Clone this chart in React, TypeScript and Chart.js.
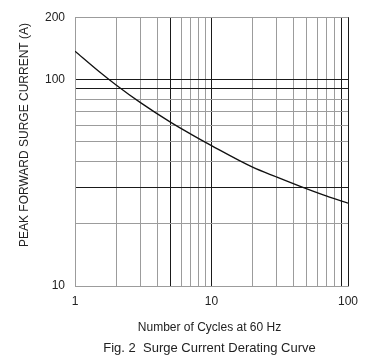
import React, { useEffect, useRef } from "react";
import { Chart, registerables } from "chart.js";

Chart.register(...registerables);

// Surge current derating curve
const cycles = [1, 1.5, 2, 3, 5, 7, 10, 20, 30, 50, 70, 100];
const surgeCurrent = [137, 109.2, 94.0, 77.4, 62.1, 54.5, 47.8, 37.6, 33.7, 29.5, 27.2, 25.2];

// grid lines and labels
const xGridValues = [1, 2, 3, 4, 5, 6, 7, 8, 9, 10, 20, 30, 40, 50, 60, 70, 80, 90, 100];
const xLabelValues = [1, 10, 100];
const xDarkLines = [5, 10, 90, 100];
const yGridValues = [10, 20, 30, 40, 50, 60, 70, 80, 90, 100, 200];
const yLabelValues = [10, 100, 200];
const yDarkLines = [30, 90, 100];

const yTitle = "PEAK FORWARD SURGE CURRENT (A)";
const xTitle = "Number of Cycles at 60 Hz";
const caption = "Fig. 2  Surge Current Derating Curve";

const FONT = "'Liberation Sans', Arial, sans-serif";
const GREY = "#9c9c9c";
const DARK = "#1a1a1a";

const titlesPlugin = {
  id: "titles",
  afterDraw(chart: any) {
    const ctx = chart.ctx;
    const area = chart.chartArea;
    const cx = (area.left + area.right) / 2 - 2;
    ctx.save();
    ctx.fillStyle = "#222";
    ctx.textAlign = "center";
    ctx.textBaseline = "middle";
    ctx.font = `12px ${FONT}`;
    ctx.save();
    ctx.translate(25, 135);
    ctx.rotate(-Math.PI / 2);
    ctx.fillText(yTitle, 0, 0);
    ctx.restore();
    ctx.fillText(xTitle, cx, 328);
    ctx.font = `13px ${FONT}`;
    ctx.fillText(caption, cx, 348);
    ctx.restore();
  },
};

export default function App() {
  const canvasRef = useRef<HTMLCanvasElement | null>(null);

  useEffect(() => {
    const canvas = canvasRef.current;
    if (!canvas) return;
    const chart = new Chart(canvas, {
      type: "line",
      data: {
        datasets: [
          {
            data: cycles.map((c, i) => ({ x: c, y: surgeCurrent[i] })),
            borderColor: "#111",
            borderWidth: 1.3,
            pointRadius: 0,
            tension: 0.4,
            cubicInterpolationMode: "monotone",
            fill: false,
          },
        ],
      },
      options: {
        responsive: false,
        animation: false,
        events: [],
        layout: { padding: { top: 14, right: 37, left: 0, bottom: 0 } },
        plugins: {
          legend: { display: false },
          tooltip: { enabled: false },
          title: { display: false },
        },
        scales: {
          x: {
            type: "logarithmic",
            min: 1,
            max: 100,
            afterBuildTicks: (scale: any) => {
              scale.ticks = xGridValues.map((v) => ({ value: v }));
            },
            afterFit: (scale: any) => {
              scale.height = 72;
            },
            ticks: {
              autoSkip: false,
              maxRotation: 0,
              padding: 8,
              color: "#222",
              font: { family: FONT, size: 12 },
              callback: (value: any) => (xLabelValues.includes(Number(value)) ? String(value) : ""),
            },
            grid: {
              drawTicks: false,
              lineWidth: 1,
              color: (ctx: any) => (ctx.tick && xDarkLines.includes(ctx.tick.value) ? DARK : GREY),
            },
            border: { display: true, color: GREY, width: 1 },
          },
          y: {
            type: "logarithmic",
            min: 10,
            max: 200,
            afterBuildTicks: (scale: any) => {
              scale.ticks = yGridValues.map((v) => ({ value: v }));
            },
            afterFit: (scale: any) => {
              scale.width = 75;
            },
            ticks: {
              autoSkip: false,
              padding: 10,
              color: "#222",
              font: { family: FONT, size: 12 },
              callback: (value: any) => (yLabelValues.includes(Number(value)) ? String(value) : ""),
            },
            grid: {
              drawTicks: false,
              lineWidth: 1,
              color: (ctx: any) => (ctx.tick && yDarkLines.includes(ctx.tick.value) ? DARK : GREY),
            },
            border: { display: true, color: GREY, width: 1 },
          },
        },
      } as any,
      plugins: [titlesPlugin],
    });
    return () => chart.destroy();
  }, []);

  return (
    <div style={{ position: "fixed", left: 0, top: 0, width: 385, height: 358, background: "#fff" }}>
      <canvas ref={canvasRef} width={385} height={358} style={{ display: "block" }} />
    </div>
  );
}
